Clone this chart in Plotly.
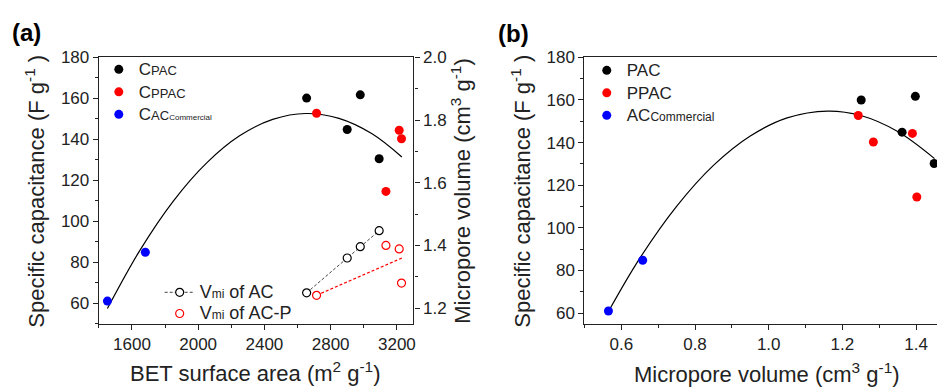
import plotly.graph_objects as go

# ---------------- data: panel (a) ----------------
bet_pac = [2655, 2900, 2979, 3093]
cap_pac = [160.1, 144.8, 161.7, 130.5]
bet_ppac = [2715, 3134, 3214, 3228]
cap_ppac = [152.7, 114.6, 144.4, 140.3]
bet_com = [1452, 1681]
cap_com = [61.1, 84.9]

vmi_ac_bet = [2655, 2900, 2979, 3093]
vmi_ac = [1.249, 1.360, 1.396, 1.447]
vmi_acp_bet = [2715, 3134, 3214, 3228]
vmi_acp = [1.241, 1.400, 1.389, 1.280]
vmi_acp_fit_x = [2715, 3240]
vmi_acp_fit_y = [1.241, 1.362]

fit_a_x = [1452, 1650, 1850, 2050, 2250, 2450, 2650, 2850, 3050, 3230]
fit_a_y = [57.5, 86.1, 109.9, 128.4, 141.7, 149.7, 152.6, 150.2, 142.7, 131.4]

# ---------------- data: panel (b) ----------------
vol_pac = [1.251, 1.362, 1.398, 1.449]
capb_pac = [160.0, 144.9, 161.7, 130.2]
vol_ppac = [1.243, 1.284, 1.390, 1.402]
capb_ppac = [152.7, 140.3, 144.3, 114.5]
vol_com = [0.565, 0.658]
capb_com = [61.0, 84.8]

fit_b_x = [0.57, 0.65, 0.75, 0.85, 0.95, 1.05, 1.16, 1.25, 1.35, 1.45]
fit_b_y = [62.3, 85.7, 110.1, 129.3, 143.1, 151.6, 154.8, 152.7, 145.2, 132.5]

# the page shows the plot div after the browser's default 8px body margin
OFFX, OFFY = 8, 8
W, H = 945 - OFFX, 387 - OFFY
def px(x): return (x - OFFX) / W
def py(y): return 1 - (y - OFFY) / H

FONT = "Liberation Sans, Arial, sans-serif"
TXT = "#222222"
MS = 9

def sz(t, s):
    return f"<span style='font-size:{s}px'>{t}</span>"

fig = go.Figure()

# panel (a) fit curve
fig.add_trace(go.Scatter(x=fit_a_x, y=fit_a_y, mode="lines", line=dict(color="black", width=1.2, shape="spline"),
                         xaxis="x", yaxis="y", showlegend=False, hoverinfo="skip"))
# panel (a) points
fig.add_trace(go.Scatter(x=bet_pac, y=cap_pac, mode="markers", marker=dict(color="black", size=MS),
                         name=sz("C", 17) + sz("PAC", 13), xaxis="x", yaxis="y", legend="legend"))
fig.add_trace(go.Scatter(x=bet_ppac, y=cap_ppac, mode="markers", marker=dict(color="#ff0000", size=MS),
                         name=sz("C", 17) + sz("PPAC", 13), xaxis="x", yaxis="y", legend="legend"))
fig.add_trace(go.Scatter(x=bet_com, y=cap_com, mode="markers", marker=dict(color="#0000ff", size=MS),
                         name=sz("C", 17) + sz("AC", 13) + sz("Commercial", 8),
                         xaxis="x", yaxis="y", legend="legend"))
# micropore volumes (right axis)
fig.add_trace(go.Scatter(x=vmi_ac_bet, y=vmi_ac, mode="lines+markers",
                         line=dict(color="#444444", width=1, dash="3px,2px"),
                         marker=dict(color="white", size=8, line=dict(color="black", width=1.2)),
                         name=sz("V", 18) + sz("mi", 12) + sz(" of AC", 18), xaxis="x", yaxis="y2", legend="legend2"))
fig.add_trace(go.Scatter(x=vmi_acp_fit_x, y=vmi_acp_fit_y, mode="lines",
                         line=dict(color="#ff0000", width=1.2, dash="3px,2px"),
                         xaxis="x", yaxis="y2", showlegend=False, hoverinfo="skip"))
fig.add_trace(go.Scatter(x=vmi_acp_bet, y=vmi_acp, mode="markers",
                         marker=dict(color="white", size=8, line=dict(color="#ff0000", width=1.2)),
                         name=sz("V", 18) + sz("mi", 12) + sz(" of AC-P", 18), xaxis="x", yaxis="y2", legend="legend2"))

# panel (b)
fig.add_trace(go.Scatter(x=fit_b_x, y=fit_b_y, mode="lines", line=dict(color="black", width=1.2, shape="spline"),
                         xaxis="x2", yaxis="y3", showlegend=False, hoverinfo="skip"))
fig.add_trace(go.Scatter(x=vol_pac, y=capb_pac, mode="markers", marker=dict(color="black", size=MS),
                         name=sz("PAC", 17), xaxis="x2", yaxis="y3", legend="legend3"))
fig.add_trace(go.Scatter(x=vol_ppac, y=capb_ppac, mode="markers", marker=dict(color="#ff0000", size=MS),
                         name=sz("PPAC", 17), xaxis="x2", yaxis="y3", legend="legend3"))
fig.add_trace(go.Scatter(x=vol_com, y=capb_com, mode="markers", marker=dict(color="#0000ff", size=MS),
                         name=sz("AC", 17) + sz("Commercial", 12), xaxis="x2", yaxis="y3", legend="legend3"))

def minor(d):
    return dict(dtick=d, ticks="outside", ticklen=3, tickwidth=1.1, tickcolor="#222222")

axis_common = dict(showline=True, linecolor="#222222", linewidth=1.3, ticks="outside", ticklen=5,
                   tickwidth=1.2, tickcolor="#222222", showgrid=False, zeroline=False,
                   tickfont=dict(family=FONT, size=17, color=TXT))

TOP, BOT = 49.3, 322.3
fig.update_layout(
    width=W, height=H, margin=dict(l=0, r=0, t=0, b=0),
    paper_bgcolor="white", plot_bgcolor="white",
    font=dict(family=FONT, color=TXT),
    xaxis=dict(domain=[px(99), px(414.3)], range=[1400, 3300], tick0=0, dtick=400,
               anchor="y", mirror=True, minor=minor(200), **axis_common),
    yaxis=dict(domain=[py(BOT), py(TOP)], range=[50, 180], tick0=0, dtick=20, anchor="x",
               minor=minor(10), **axis_common),
    yaxis2=dict(range=[1.15, 2.0], tick0=0, dtick=0.2, tickformat=".1f", overlaying="y", side="right", anchor="x",
                minor=minor(0.1), **axis_common),
    xaxis2=dict(domain=[px(585.7), 1.0], range=[0.5, 1.473], tick0=0, dtick=0.2, tickformat=".1f",
                anchor="y3", mirror=True, minor=minor(0.1), **axis_common),
    yaxis3=dict(domain=[py(BOT), py(TOP)], range=[55, 180], tick0=0, dtick=20, anchor="x2",
                minor=minor(10), **axis_common),
    legend=dict(x=px(99), y=py(45), xanchor="left", yanchor="top", bgcolor="rgba(0,0,0,0)",
                font=dict(family=FONT, size=15, color=TXT), tracegroupgap=0),
    legend2=dict(x=px(160), y=py(274), xanchor="left", yanchor="top", bgcolor="rgba(0,0,0,0)",
                 font=dict(family=FONT, size=14, color=TXT), tracegroupgap=0),
    legend3=dict(x=px(588), y=py(46), xanchor="left", yanchor="top", bgcolor="rgba(0,0,0,0)",
                 font=dict(family=FONT, size=15, color=TXT), tracegroupgap=0),
)

ann_font = dict(family=FONT, size=22, color=TXT)
annots = [
    dict(text="<b>(a)</b>", x=px(27), y=py(24), font=dict(family=FONT, size=24, color="black")),
    dict(text="<b>(b)</b>", x=px(515), y=py(25), font=dict(family=FONT, size=24, color="black")),
    dict(text="Specific capacitance (F g<sup>-1</sup> )", x=px(35), y=py(186), textangle=-90, font=ann_font),
    dict(text="Micropore volume (cm<sup>3</sup> g<sup>-1</sup>)", x=px(462), y=py(186), textangle=-90, font=ann_font),
    dict(text="BET surface area (m<sup>2</sup> g<sup>-1</sup>)", x=px(256.5), y=py(372), font=ann_font),
    dict(text="Specific capacitance (F g<sup>-1</sup> )", x=px(522), y=py(186), textangle=-90, font=ann_font),
    dict(text="Micropore volume (cm<sup>3</sup> g<sup>-1</sup>)", x=px(769), y=py(373), font=ann_font),
]
for a in annots:
    fig.add_annotation(xref="paper", yref="paper", xanchor="center", yanchor="middle", showarrow=False, **a)

fig.write_html("out.html")
